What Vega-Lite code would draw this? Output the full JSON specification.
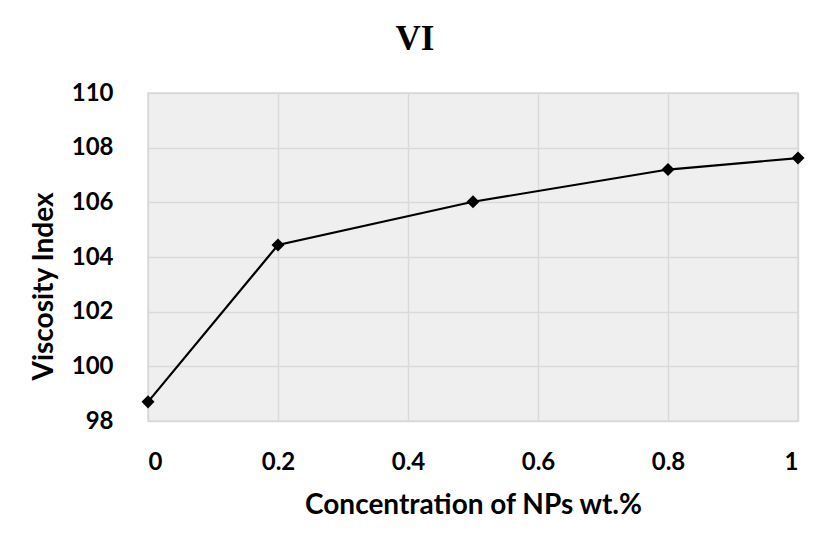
{
  "$schema": "https://vega.github.io/schema/vega-lite/v6.json",
  "autosize": {"type": "none"},
  "width": 650,
  "height": 328,
  "padding": {"left": 148, "top": 93, "right": 32, "bottom": 128},
  "background": "white",
  "title": {
    "text": "VI",
    "font": "Liberation Serif",
    "fontSize": 35,
    "fontWeight": "bold",
    "color": "#000000",
    "anchor": "middle",
    "frame": "group",
    "dx": -58,
    "offset": 24
  },
  "config": {
    "view": {"fill": "#efefef", "stroke": "#d9d9d9", "strokeWidth": 1.5},
    "axis": {
      "labelFont": "Lato",
      "labelFontSize": 24,
      "labelFontWeight": "bold",
      "labelColor": "#000000",
      "titleFont": "Lato",
      "titleFontSize": 28,
      "titleFontWeight": "bold",
      "titleColor": "#000000",
      "gridColor": "#d9d9d9",
      "gridWidth": 1.5,
      "domain": false,
      "ticks": false
    }
  },
  "data": {
    "values": [
      {"conc": 0, "vi": 98.7},
      {"conc": 0.2, "vi": 104.44},
      {"conc": 0.5, "vi": 106.02},
      {"conc": 0.8, "vi": 107.2},
      {"conc": 1, "vi": 107.62}
    ]
  },
  "encoding": {
    "x": {
      "field": "conc",
      "type": "quantitative",
      "scale": {"domain": [0, 1], "nice": false},
      "axis": {
        "values": [0, 0.2, 0.4, 0.6, 0.8, 1],
        "format": "~g",
        "title": "Concentration of NPs wt.%",
        "labelPadding": 29,
        "titlePadding": 17
      }
    },
    "y": {
      "field": "vi",
      "type": "quantitative",
      "scale": {"domain": [98, 110], "nice": false, "zero": false},
      "axis": {
        "values": [98, 100, 102, 104, 106, 108, 110],
        "title": "Viscosity Index",
        "labelPadding": 35,
        "titleAngle": 270,
        "titleAlign": "center",
        "titleBaseline": "middle",
        "titleX": -104,
        "titleY": 193
      }
    }
  },
  "layer": [
    {"mark": {"type": "line", "color": "#000000", "strokeWidth": 2.2}},
    {"mark": {"type": "point", "shape": "diamond", "filled": true, "color": "#000000", "size": 170, "opacity": 1}}
  ]
}
